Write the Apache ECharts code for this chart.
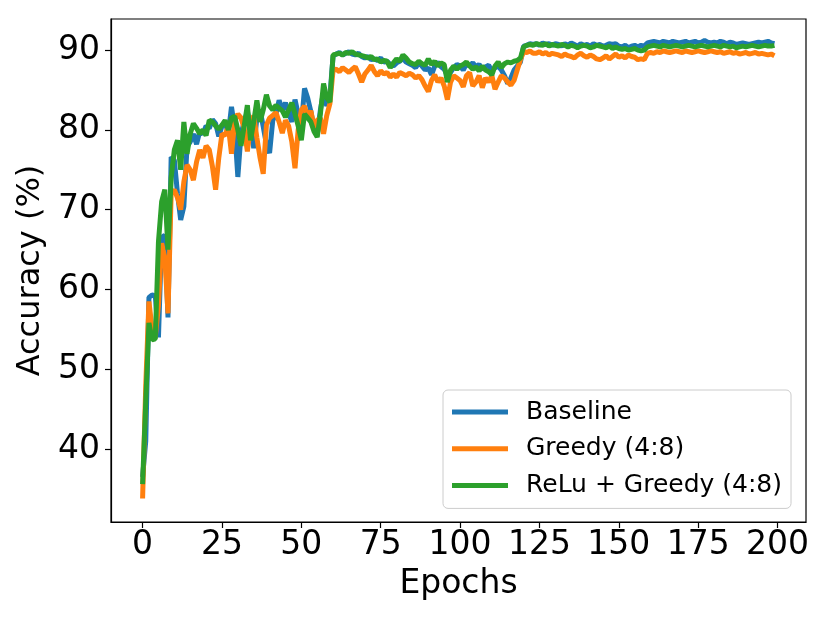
<!DOCTYPE html>
<html lang="en">
<head>
    <meta charset="UTF-8">
    <title>Accuracy vs Epochs</title>
    <script src="https://cdn.jsdelivr.net/npm/echarts@6/dist/echarts.min.js"></script>
    <style>
        html, body { margin: 0; padding: 0; background: #fff; }
        #main { width: 830px; height: 623px; }
    </style>
</head>
<body>
<div id="main"></div>
<script>
    var seriesNames = ["Baseline", "Greedy (4:8)", "ReLu + Greedy (4:8)"];
    var xTicks = [0, 25, 50, 75, 100, 125, 150, 175, 200];
    var yTicks = [40, 50, 60, 70, 80, 90];

    var baseline = [
        36.5, 41.0, 59.0, 59.3, 59.2, 54.0, 66.5, 66.8, 56.5, 76.6,
        76.2, 72.0, 68.7, 70.4, 77.9, 78.5, 79.5, 78.2, 79.8, 79.5,
        80.5, 80.2, 81.3, 80.8, 79.2, 80.5, 81.0, 79.5, 82.9, 80.2,
        74.1, 79.5, 81.0, 82.3, 80.5, 77.7, 81.5, 82.5, 80.4, 78.2,
        77.1, 81.2, 82.0, 83.7, 82.5, 83.4, 82.2, 81.0, 83.8, 82.0,
        80.5, 85.2, 84.0, 82.3, 80.2, 79.4, 82.5, 84.8, 83.0, 84.2,
        89.3, 89.5, 89.7, 89.4, 89.6, 89.8, 89.5, 89.4, 89.6, 89.2,
        89.0, 89.2, 88.8, 88.9, 88.7, 89.0, 88.5, 88.6, 88.2, 88.0,
        88.4, 88.6, 89.0, 88.5, 88.3, 88.1, 87.8, 88.4, 88.0, 87.5,
        87.8, 86.9, 88.0, 88.5, 87.9, 87.6, 86.8, 87.2, 87.8, 88.2,
        88.0, 87.5, 88.3, 88.0, 88.4, 87.9, 88.2, 87.6, 87.9, 88.1,
        87.4, 87.8, 88.0, 87.5, 86.8, 85.8, 86.5, 87.5, 88.0, 88.5,
        90.5, 90.6, 90.8, 90.7, 90.8, 90.6, 90.9, 90.7, 90.8, 90.6,
        90.8, 90.7, 90.5, 90.8, 90.6, 90.9, 90.7, 90.5, 90.8, 90.6,
        90.7, 90.5, 90.8, 90.6, 90.7, 90.5, 90.6, 90.8, 90.7, 90.8,
        90.5, 90.4, 90.6, 90.3, 90.5, 90.6, 90.4, 90.6, 90.5, 90.9,
        91.0, 91.1, 91.0, 90.9, 91.1, 91.0, 90.9, 91.1, 91.0, 90.9,
        91.0, 91.1, 90.9, 91.0, 91.1, 90.9, 91.0, 91.2, 91.0, 90.9,
        91.0, 90.9, 91.1, 91.0, 90.8, 91.0, 90.9, 90.7, 90.8, 90.9,
        90.8, 90.7, 90.8, 90.9, 91.0, 90.9, 91.0, 91.1, 90.9, 90.8
    ];

    var greedy = [
        33.8, 48.0, 58.5, 55.0, 54.0, 58.0, 65.8, 64.0, 57.0, 72.0,
        72.5, 71.5, 70.0, 73.5, 75.6, 75.0, 73.7, 76.0, 77.5, 76.5,
        78.0, 77.5, 75.4, 72.5, 76.5, 79.5, 79.3, 80.5, 77.0, 81.0,
        82.0, 81.5, 80.2, 77.3, 80.5, 81.8, 79.0, 76.5, 74.5, 80.6,
        81.5, 81.8, 82.2, 81.0, 79.6, 81.2, 80.5, 78.5, 75.2, 80.0,
        82.5, 83.0, 81.5, 82.4, 80.3, 81.2, 81.5, 79.5, 81.8, 83.3,
        87.5, 87.6, 87.3, 87.8, 87.5, 87.2, 87.6, 87.9, 87.0, 86.0,
        87.0, 87.5, 88.1, 87.3, 86.8, 87.4, 87.0, 87.2, 86.6, 87.0,
        86.6, 87.2, 87.0, 86.8, 87.1, 86.9, 86.5, 86.8, 86.3, 85.5,
        84.8, 86.2, 86.9, 86.0, 86.5, 85.5, 83.8, 86.0, 86.8, 86.5,
        86.2, 85.4, 86.8, 87.2, 85.5, 86.0, 86.8, 85.3, 86.5, 86.0,
        86.8, 85.1, 86.0, 86.8, 86.5, 86.0, 85.6, 86.2, 87.5, 88.8,
        89.8, 89.7, 89.9, 89.6, 89.6, 89.8, 89.5, 89.7, 89.4, 89.6,
        89.5, 89.4, 89.2, 89.5, 89.3, 89.2, 89.0, 89.4, 89.6, 89.3,
        89.1, 89.4, 89.2, 88.9, 88.8, 89.0, 89.3, 88.9, 89.2, 89.5,
        89.1, 89.3, 89.0, 89.4, 89.2, 89.1, 88.8, 88.9, 88.8, 89.6,
        89.7, 89.6, 89.8, 89.7, 89.9, 89.8, 89.7, 89.8, 89.9, 89.8,
        89.7, 89.9, 89.8, 89.7, 89.8, 89.9, 89.8, 89.7, 89.8, 89.9,
        89.8, 89.7, 89.8, 89.6, 89.7, 89.8, 89.6, 89.7, 89.5, 89.6,
        89.7, 89.5, 89.6, 89.7, 89.5, 89.6, 89.5, 89.4, 89.5, 89.3
    ];

    var reluGreedy = [
        35.6, 46.0, 55.8, 53.7, 53.8, 66.0, 71.0, 72.5, 65.0, 74.0,
        77.5, 78.7, 75.0, 81.0, 77.0, 79.5, 80.8, 80.2, 79.5, 80.0,
        79.3, 81.2, 81.0, 80.5, 80.1, 80.6, 81.2, 80.0, 81.5, 81.7,
        80.0, 78.0, 80.5, 83.1, 78.7, 81.0, 83.7, 81.0, 82.5, 84.4,
        83.0, 82.5, 83.1, 82.7, 82.4, 81.6, 82.5, 83.4, 82.0, 80.5,
        78.7, 82.0, 81.5, 81.0, 79.8, 79.1, 82.0, 85.8, 84.0, 83.5,
        89.4, 89.5, 89.6, 89.4, 89.7, 89.6, 89.8, 89.5, 89.4, 89.3,
        89.2, 89.0, 89.2, 88.8, 88.9, 88.5, 88.7, 88.6, 87.8, 88.4,
        88.9, 88.6, 89.4, 89.0, 88.5, 88.3, 88.2, 88.6, 88.3, 88.1,
        88.9, 88.2, 88.6, 88.0, 88.4, 88.2, 86.0, 87.5, 88.0, 87.6,
        88.0, 88.2, 88.5, 88.0, 87.6, 87.9, 87.4, 88.0, 87.5, 87.3,
        86.9, 88.0, 88.5, 87.8, 88.3, 88.5, 88.4, 88.6, 88.7, 89.0,
        90.4, 90.6, 90.7, 90.6, 90.8, 90.7, 90.6, 90.8, 90.5, 90.7,
        90.6, 90.5, 90.7, 90.6, 90.4, 90.6, 90.5, 90.3, 90.5, 90.6,
        90.5, 90.3, 90.4, 90.6, 90.5, 90.4, 90.3, 90.5, 90.2, 90.4,
        90.2, 90.1, 90.2, 90.0, 90.1, 90.2, 90.0, 89.9, 90.0, 90.4,
        90.5, 90.6, 90.5, 90.4, 90.6, 90.5, 90.4, 90.5, 90.6, 90.5,
        90.4, 90.5, 90.6, 90.5, 90.4, 90.5, 90.6, 90.5, 90.4, 90.5,
        90.6, 90.5, 90.4, 90.6, 90.5, 90.4, 90.5, 90.3, 90.4, 90.5,
        90.4, 90.5, 90.6, 90.5, 90.4, 90.5, 90.6, 90.5, 90.5, 90.6
    ];

    var colors = ["#1f77b4", "#ff7f0e", "#2ca02c"];
    var font = "DejaVu Sans";

    function pairs(values) {
        return values.map(function (v, i) { return [i, v]; });
    }

    var myChart = echarts.init(document.getElementById("main"), null, { renderer: "canvas" });
    var option = {
        animation: false,
        backgroundColor: "#fff",
        color: colors,
        grid: {
            left: 111,
            right: 24,
            top: 19,
            bottom: 101,
            show: true,
            borderColor: "#000",
            borderWidth: 1.2,
            backgroundColor: "transparent"
        },
        legend: {
            orient: "vertical",
            left: 443,
            top: 390,
            icon: "rect",
            itemWidth: 56,
            itemHeight: 5,
            itemGap: 6.7,
            padding: [7, 9, 8, 9],
            backgroundColor: "rgba(255,255,255,0.8)",
            borderColor: "#cccccc",
            borderWidth: 1,
            borderRadius: 5,
            data: seriesNames,
            textStyle: {
                fontFamily: font,
                fontSize: 25,
                lineHeight: 30,
                color: "#000",
                padding: [0, 0, 0, 13]
            }
        },
        xAxis: {
            type: "value",
            min: -9.95,
            max: 208.95,
            name: "Epochs",
            nameLocation: "middle",
            nameGap: 46,
            nameTextStyle: { fontFamily: font, fontSize: 33, color: "#000" },
            axisLine: { show: true, onZero: false, lineStyle: { color: "#000", width: 1.2 } },
            axisTick: { show: true, length: 6, lineStyle: { color: "#000", width: 1.2 }, customValues: xTicks },
            axisLabel: { fontFamily: font, fontSize: 33, color: "#000", margin: 7, customValues: xTicks },
            splitLine: { show: false }
        },
        yAxis: {
            type: "value",
            min: 30.85,
            max: 93.9,
            name: "Accuracy (%)",
            nameLocation: "middle",
            nameGap: 56,
            nameRotate: 90,
            nameTextStyle: { fontFamily: font, fontSize: 32, color: "#000" },
            axisLine: { show: true, onZero: false, lineStyle: { color: "#000", width: 1.2 } },
            axisTick: { show: true, length: 6, lineStyle: { color: "#000", width: 1.2 }, customValues: yTicks },
            axisLabel: { fontFamily: font, fontSize: 33, color: "#000", margin: 11, customValues: yTicks },
            splitLine: { show: false }
        },
        series: [
            { name: seriesNames[0], type: "line", data: pairs(baseline), showSymbol: false, lineStyle: { width: 5, color: colors[0] }, itemStyle: { color: colors[0] } },
            { name: seriesNames[1], type: "line", data: pairs(greedy), showSymbol: false, lineStyle: { width: 5, color: colors[1] }, itemStyle: { color: colors[1] } },
            { name: seriesNames[2], type: "line", data: pairs(reluGreedy), showSymbol: false, lineStyle: { width: 5, color: colors[2] }, itemStyle: { color: colors[2] } }
        ]
    };
    myChart.setOption(option, true);
</script>
</body>
</html>
